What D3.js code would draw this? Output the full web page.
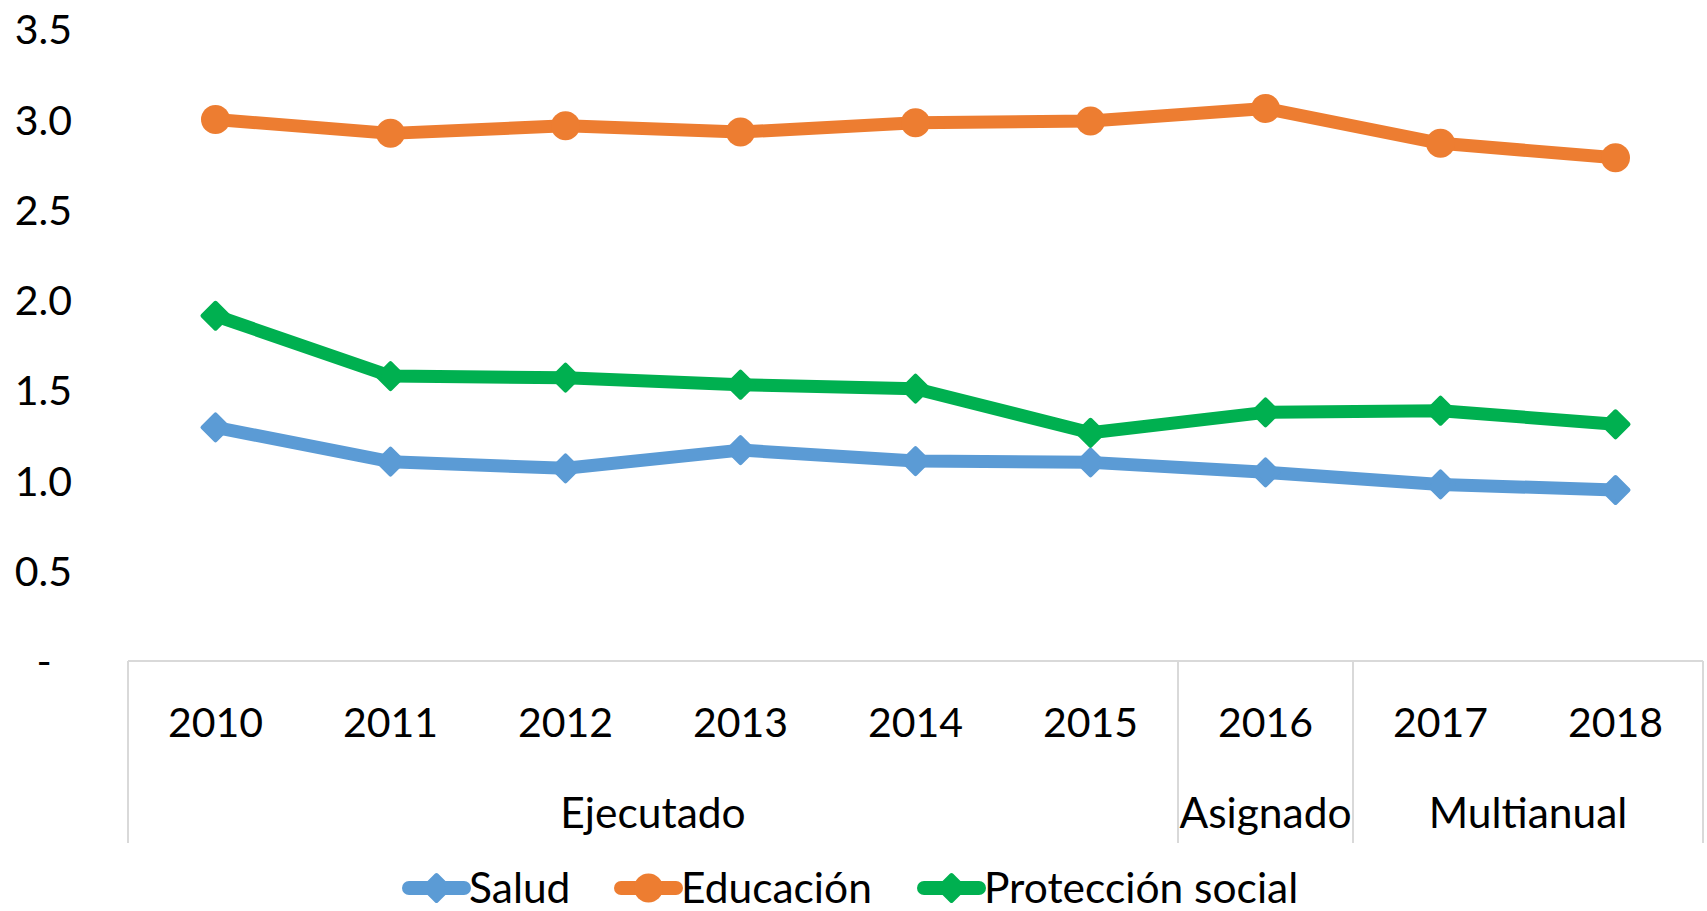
<!DOCTYPE html>
<html>
<head>
<meta charset="utf-8">
<script src="https://cdn.jsdelivr.net/npm/d3@7"></script>
<style>
  html, body { margin: 0; padding: 0; background: #ffffff; }
  svg { display: block; }
  text { font-family: "Lato", "Open Sans", sans-serif; fill: #000; }
</style>
</head>
<body>
<svg id="chart" width="1707" height="911"></svg>
<script>
// ---- data ----
const years = ["2010", "2011", "2012", "2013", "2014", "2015", "2016", "2017", "2018"];
const salud = [1.294, 1.104, 1.067, 1.168, 1.107, 1.100, 1.045, 0.978, 0.947];
const educacion = [2.999, 2.922, 2.964, 2.929, 2.981, 2.990, 3.060, 2.867, 2.787];
const proteccion = [1.912, 1.578, 1.569, 1.530, 1.508, 1.264, 1.377, 1.386, 1.311];
const seriesNames = ["Salud", "Educación", "Protección social"];
const yTicks = [0, 0.5, 1.0, 1.5, 2.0, 2.5, 3.0, 3.5];
const groupNames = ["Ejecutado", "Asignado", "Multianual"];
const groupFirst = ["2010", "2016", "2017"];
const groupLast = ["2015", "2016", "2018"];

const colors = ["#5B9BD5", "#ED7D31", "#00B050"];
const markers = ["diamond", "circle", "diamond"];
const seriesValues = [salud, educacion, proteccion];

const svg = d3.select("#chart");
const FS = 41;
const FSW = 42.5;

const x = d3.scaleBand().domain(years).range([128, 1703]).padding(0);
const y = d3.scaleLinear().domain([0, 3.5]).range([661, 29]);

// y axis labels
const yAxis = d3.axisLeft(y).tickValues(yTicks)
  .tickFormat(d => d === 0 ? "-" : d3.format(".1f")(d))
  .tickSize(0).tickPadding(0);
const yg = svg.append("g").attr("transform", "translate(72,0)").call(yAxis);
yg.select(".domain").remove();
yg.selectAll("text").attr("font-size", FS).attr("font-family", "Lato")
  .attr("fill", "#000").attr("dy", "0.36em");
yg.selectAll(".tick").filter(d => d === 0).select("text").attr("text-anchor", "middle").attr("dx", -28);

// x axis (category lines)
const axisColor = "#d9d9d9";
const axisTop = y(0);
const axisBottom = 843;
svg.append("line").attr("x1", x.range()[0]).attr("x2", x.range()[1])
  .attr("y1", axisTop).attr("y2", axisTop)
  .attr("stroke", axisColor).attr("stroke-width", 2);
const sepX = [x.range()[0]].concat(groupLast.map(g => x(g) + x.bandwidth()));
svg.selectAll("line.sep").data(sepX).enter().append("line")
  .attr("class", "sep")
  .attr("x1", d => d).attr("x2", d => d)
  .attr("y1", axisTop).attr("y2", axisBottom)
  .attr("stroke", axisColor).attr("stroke-width", 2);

// year labels
svg.selectAll("text.year").data(years).enter().append("text")
  .attr("class", "year")
  .attr("x", d => x(d) + x.bandwidth() / 2)
  .attr("y", 722).attr("dy", "0.36em")
  .attr("text-anchor", "middle").attr("font-size", FS)
  .text(d => d);

// group labels
svg.selectAll("text.group").data(groupNames).enter().append("text")
  .attr("class", "group")
  .attr("x", (d, i) => (x(groupFirst[i]) + x(groupLast[i]) + x.bandwidth()) / 2)
  .attr("y", 813).attr("dy", "0.36em")
  .attr("text-anchor", "middle").attr("font-size", FSW)
  .text(d => d);

// lines
const line = d3.line().x((d, i) => x(years[i]) + x.bandwidth() / 2).y(d => y(d));
const diamondPath = r => `M0,${-r}L${r},0L0,${r}L${-r},0Z`;

seriesValues.forEach((vals, si) => {
  const g = svg.append("g");
  g.append("path").datum(vals).attr("d", line)
    .attr("fill", "none").attr("stroke", colors[si]).attr("stroke-width", 13)
    .attr("stroke-linejoin", "round");
  const pts = g.selectAll("g.pt").data(vals).enter().append("g")
    .attr("transform", (d, i) => `translate(${x(years[i]) + x.bandwidth() / 2},${y(d)})`);
  if (markers[si] === "circle") {
    pts.append("circle").attr("r", 14.5).attr("fill", colors[si]);
  } else {
    pts.append("path").attr("d", diamondPath(13)).attr("fill", colors[si])
      .attr("stroke", colors[si]).attr("stroke-width", 4).attr("stroke-linejoin", "round");
  }
});

// legend
const legX = [405, 617, 920];
const legY = 888;
seriesNames.forEach((name, si) => {
  const g = svg.append("g").attr("transform", `translate(${legX[si]},${legY})`);
  g.append("line").attr("x1", 4).attr("x2", 59).attr("y1", 0).attr("y2", 0)
    .attr("stroke", colors[si]).attr("stroke-width", 14).attr("stroke-linecap", "round");
  if (markers[si] === "circle") {
    g.append("circle").attr("cx", 31.5).attr("r", 14.5).attr("fill", colors[si]);
  } else {
    g.append("path").attr("transform", "translate(31.5,0)").attr("d", diamondPath(13))
      .attr("fill", colors[si]).attr("stroke", colors[si]).attr("stroke-width", 4)
      .attr("stroke-linejoin", "round");
  }
  g.append("text").attr("x", 64).attr("y", 0).attr("dy", "0.36em")
    .attr("font-size", FSW).text(name);
});
</script>
</body>
</html>
